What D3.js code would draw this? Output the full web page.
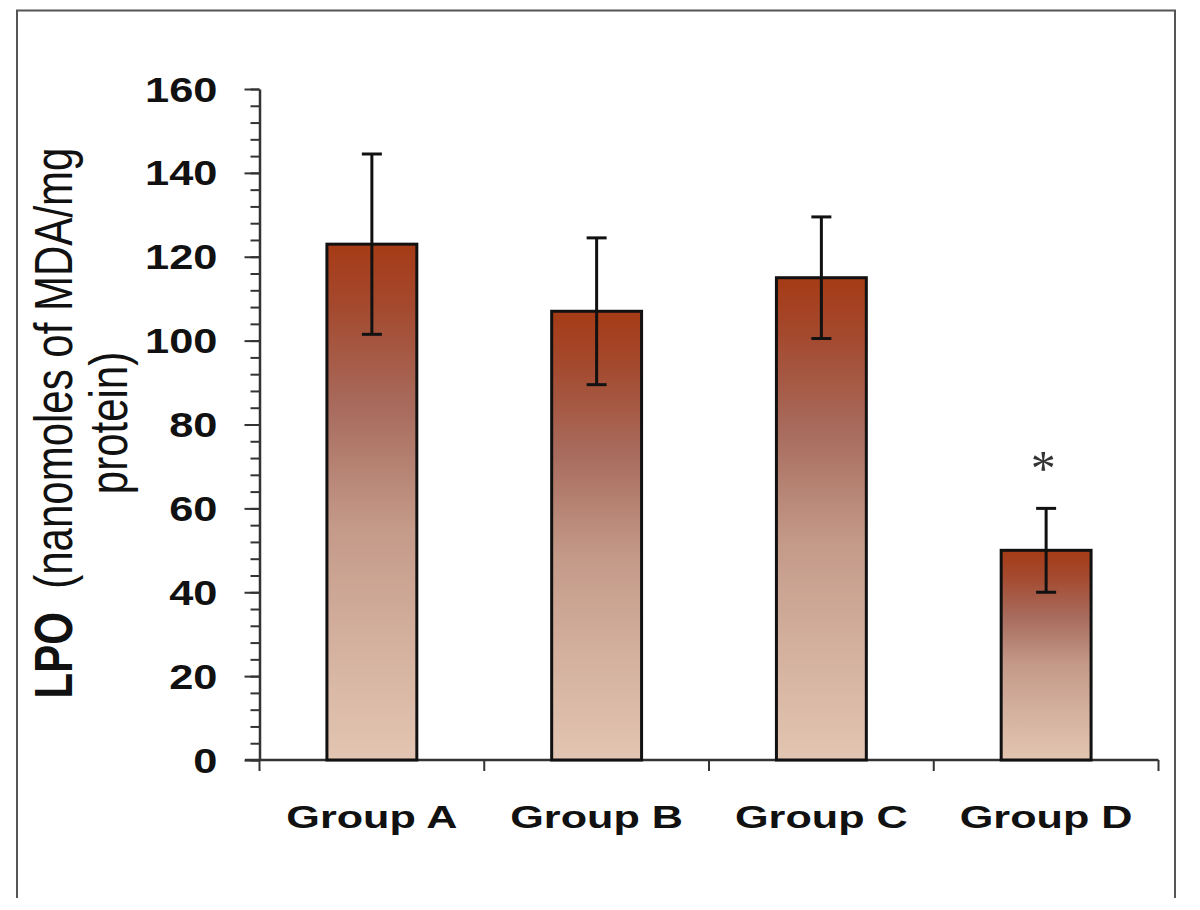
<!DOCTYPE html>
<html>
<head>
<meta charset="utf-8">
<script src="https://cdn.jsdelivr.net/npm/d3@7"></script>
<style>
  html, body { margin: 0; padding: 0; background: #fff; }
  svg { display: block; }
  text { font-family: "Liberation Sans", Arial, sans-serif; }
</style>
</head>
<body>
<svg id="chart" width="1200" height="910"></svg>
<script>
// ---- data ----
const groups = ["Group A", "Group B", "Group C", "Group D"];
const means  = [123, 107, 115, 50];
const errors = [21.5, 17.5, 14.5, 10];
const marks  = ["", "", "", "*"];
const yTicks = [0, 20, 40, 60, 80, 100, 120, 140, 160];
const yTitleLine1Bold = "LPO";
const yTitleLine1Rest = "  (nanomoles of MDA/mg";
const yTitleLine2 = "protein)";

const svg = d3.select("#chart");

// frame (bottom edge cut off)
svg.append("path")
  .attr("d", "M17,898 V10.5 H1175 V898")
  .attr("fill", "none").attr("stroke", "#555").attr("stroke-width", 2);

// gradient
const defs = svg.append("defs");
const grad = defs.append("linearGradient").attr("id", "barGrad")
  .attr("x1", 0).attr("y1", 0).attr("x2", 0).attr("y2", 1);
[[0, "#A63B16"], [0.12, "#A4492E"], [0.32, "#A86C5E"], [0.55, "#C49A89"], [0.8, "#D6B3A1"], [1, "#E2C5B2"]]
  .forEach(([o, c]) => grad.append("stop").attr("offset", o).attr("stop-color", c));

const y = d3.scaleLinear().domain([0, 160]).range([760, 89]);
const x = d3.scaleBand().domain(groups).range([259.5, 1158.5]).padding(0);
const bw = x.bandwidth() * 0.4;

// y axis: minor ticks
const yMinor = svg.append("g").attr("transform", "translate(259.5,0)")
  .call(d3.axisLeft(y).tickValues(d3.range(0, 161, 4)).tickSize(9).tickFormat(""));
yMinor.select(".domain").remove();
yMinor.selectAll("line").attr("stroke", "#333").attr("stroke-width", 2);

// y axis: major ticks
const yAx = svg.append("g").attr("transform", "translate(259.5,0)")
  .call(d3.axisLeft(y).tickValues(yTicks).tickSize(15).tickSizeOuter(0).tickFormat(d3.format("d")));
yAx.select(".domain").attr("stroke", "#333").attr("stroke-width", 2.5);
yAx.selectAll("line").attr("stroke", "#333").attr("stroke-width", 2);
yAx.selectAll("text")
  .attr("x", null).attr("dy", null)
  .attr("transform", "translate(-42,0) scale(1.24,1)")
  .attr("y", 12)
  .attr("text-anchor", "end")
  .attr("fill", "#111")
  .style("font-size", "35px").style("font-weight", "bold");

// x axis line
svg.append("line")
  .attr("x1", 245).attr("x2", x.range()[1]).attr("y1", y(0)).attr("y2", y(0))
  .attr("stroke", "#333").attr("stroke-width", 2.5);
// category boundary ticks
const bounds = groups.map(g => x(g)).concat([x(groups[groups.length - 1]) + x.bandwidth()]);
svg.append("g").selectAll("line").data(bounds).join("line")
  .attr("x1", d => d).attr("x2", d => d)
  .attr("y1", y(0)).attr("y2", y(0) + 11)
  .attr("stroke", "#333").attr("stroke-width", 2);

// bars
const data = groups.map((g, i) => ({ g, m: means[i], e: errors[i], s: marks[i] }));
svg.append("g").selectAll("rect").data(data).join("rect")
  .attr("x", d => x(d.g) + x.bandwidth() / 2 - bw / 2)
  .attr("width", bw)
  .attr("y", d => y(d.m))
  .attr("height", d => y(0) - y(d.m))
  .attr("fill", "url(#barGrad)")
  .attr("stroke", "#111").attr("stroke-width", 3);

// error bars
const eb = svg.append("g").attr("stroke", "#111").attr("stroke-width", 3);
data.forEach(d => {
  const cx = x(d.g) + x.bandwidth() / 2;
  eb.append("line").attr("x1", cx).attr("x2", cx).attr("y1", y(d.m + d.e)).attr("y2", y(d.m - d.e));
  [d.m + d.e, d.m - d.e].forEach(v => {
    eb.append("line").attr("x1", cx - 10).attr("x2", cx + 10).attr("y1", y(v)).attr("y2", y(v));
  });
});

// significance marks
svg.append("g").selectAll("text").data(data.filter(d => d.s)).join("text")
  .attr("transform", d => `translate(${x(d.g) + x.bandwidth() / 2 - 3},${y(d.m + d.e) - 23})`)
  .attr("text-anchor", "middle")
  .style("font-size", "50px").style("font-family", "'Liberation Serif', serif")
  .attr("fill", "#333")
  .text(d => d.s);

// x labels
svg.append("g").selectAll("text").data(groups).join("text")
  .attr("transform", g => `translate(${x(g) + x.bandwidth() / 2},828) scale(1.35,1)`)
  .attr("text-anchor", "middle")
  .style("font-size", "32px").style("font-weight", "bold")
  .attr("fill", "#111")
  .text(g => g);

// y title
const t = svg.append("g").attr("transform", "translate(0,423)");
const t1 = t.append("text")
  .attr("transform", "translate(72,0) rotate(-90) scale(1,1.27)")
  .attr("text-anchor", "middle")
  .style("font-size", "42px").attr("fill", "#111");
t1.append("tspan").style("font-weight", "bold").text(yTitleLine1Bold);
t1.append("tspan").attr("xml:space", "preserve").style("white-space", "pre").text(yTitleLine1Rest);
t.append("text")
  .attr("transform", "translate(127,0) rotate(-90) scale(1,1.27)")
  .attr("text-anchor", "middle")
  .style("font-size", "42px").attr("fill", "#111")
  .text(yTitleLine2);
</script>
</body>
</html>
